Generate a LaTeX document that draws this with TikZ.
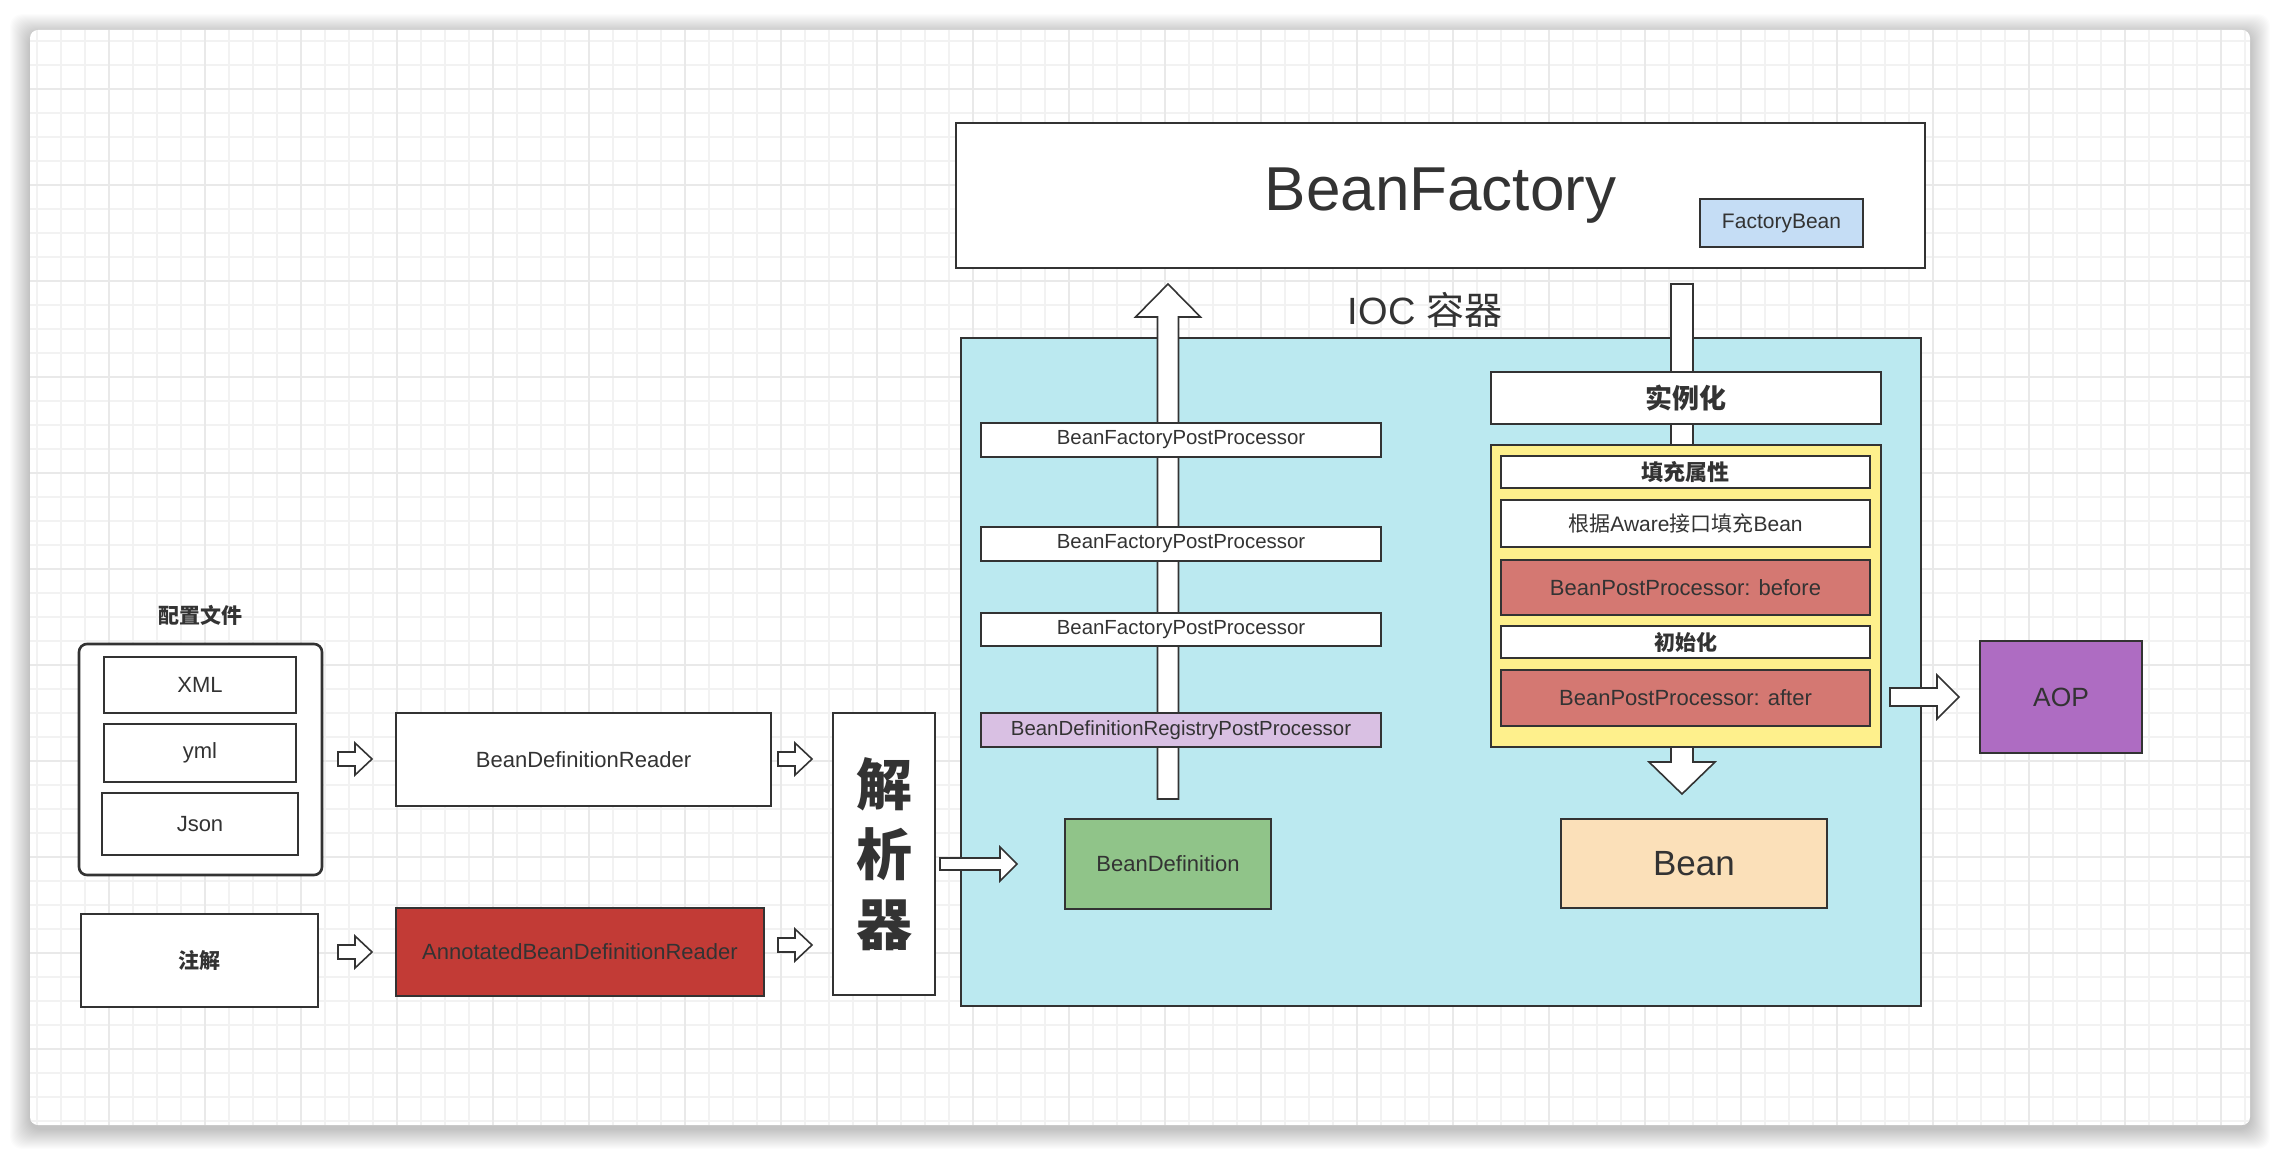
\documentclass[tikz,border=0pt]{standalone}
\usepackage{fontspec}
\setmainfont{Liberation Sans}
\newfontfamily\cjk{Noto Sans CJK SC}
\definecolor{ink}{HTML}{333333}
\definecolor{iocfill}{HTML}{BBE9F0}
\definecolor{lav}{HTML}{D9C0E3}
\definecolor{bdgreen}{HTML}{90C489}
\definecolor{abdrred}{HTML}{C23B36}
\definecolor{bppred}{HTML}{D47872}
\definecolor{yel}{HTML}{FEF08C}
\definecolor{aopp}{HTML}{AE6CC2}
\definecolor{peach}{HTML}{FBE0B9}
\definecolor{fbblue}{HTML}{C5DDF5}
\definecolor{gridminor}{HTML}{F2F2F2}
\definecolor{gridmajor}{HTML}{E9E9E9}
\newcommand\fs[1]{\fontsize{#1}{#1}\selectfont}
\newcommand\bx[7]{\node[#6, minimum width={(#4-#2)*0.5pt}, minimum height={(#5-#3)*0.5pt}] (#1) at ({(#2+#4)/2},{(#3+#5)/2}) {#7};}
\newcommand\rarr[6]{\filldraw[blockarr] (#1,{#3-#4}) -- ({#2-#6},{#3-#4}) -- ({#2-#6},{#3-#5}) -- (#2,#3) -- ({#2-#6},{#3+#5}) -- ({#2-#6},{#3+#4}) -- (#1,{#3+#4}) -- cycle;}
\newcommand\uarr[6]{\filldraw[blockarr] ({#1-#4},#2) -- ({#1-#4},{#3+#6}) -- ({#1-#5},{#3+#6}) -- (#1,#3) -- ({#1+#5},{#3+#6}) -- ({#1+#4},{#3+#6}) -- ({#1+#4},#2) -- cycle;}
\newcommand\darr[6]{\filldraw[blockarr] ({#1-#4},#2) -- ({#1-#4},{#3-#6}) -- ({#1-#5},{#3-#6}) -- (#1,#3) -- ({#1+#5},{#3-#6}) -- ({#1+#4},{#3-#6}) -- ({#1+#4},#2) -- cycle;}
\tikzset{
  box/.style={draw=ink, fill=white, line width=1.3pt, inner sep=0pt, text=ink, font=\fs{11}, align=center},
  blockarr/.style={draw=ink, fill=white, line width=0.8pt, line join=miter},
  lbl/.style={inner sep=0pt, text=ink}
}
\begin{document}
\begin{tikzpicture}[x=0.5pt,y=-0.5pt]
\useasboundingbox (0,0) rectangle (2280,1156);
\fill[white] (0,0) rectangle (2280,1156);
% shadow
\foreach \i in {1,...,20} \fill[black,opacity=0.011,rounded corners=6pt] ({30-\i},{30-\i+4}) rectangle ({2250+\i},{1125+\i+4});
\fill[white, rounded corners=4pt] (30,30) rectangle (2250,1125);
% grid
\begin{scope}
\clip[rounded corners=4pt] (30,30) rectangle (2250,1125);
\foreach \x in {37,61,...,2250} \draw[gridminor, line width=0.75pt] (\x,30) -- (\x,1125);
\foreach \y in {41,65,...,1125} \draw[gridminor, line width=0.75pt] (30,\y) -- (2250,\y);
\foreach \x in {109,205,...,2250} \draw[gridmajor, line width=0.8pt] (\x,30) -- (\x,1125);
\foreach \y in {89,185,...,1125} \draw[gridmajor, line width=0.8pt] (30,\y) -- (2250,\y);
\end{scope}

% BeanFactory
\bx{bf}{956}{123}{1925}{268}{box, font=\fs{31}}{BeanFactory}
\bx{fb}{1700}{199}{1863}{247}{box, fill=fbblue, font=\fs{10.5}}{FactoryBean}
\node[lbl, font=\fs{19}] (ioclbl) at (1425,310) {IOC {\cjk 容器}};

% IOC container
\bx{ioc}{961}{338}{1921}{1006}{box, fill=iocfill}{}

% vertical block arrows
\uarr{1168}{799}{284}{10.5}{32.5}{33}
\darr{1682}{284}{794}{11}{33}{32}

% post processors
\bx{bfpp1}{981}{423}{1381}{457}{box, font=\fs{10.2}}{BeanFactoryPostProcessor}
\bx{bfpp2}{981}{527}{1381}{561}{box, font=\fs{10.2}}{BeanFactoryPostProcessor}
\bx{bfpp3}{981}{613}{1381}{646}{box, font=\fs{10.2}}{BeanFactoryPostProcessor}
\bx{bdrpp}{981}{713}{1381}{747}{box, fill=lav, font=\fs{10.2}}{BeanDefinitionRegistryPostProcessor}
\bx{bd}{1065}{819}{1271}{909}{box, fill=bdgreen, font=\fs{11}}{BeanDefinition}

% bean lifecycle
\bx{inst}{1491}{372}{1881}{424}{box, font=\cjk\bfseries\fs{13.5}}{实例化}
\bx{yb}{1491}{445}{1881}{747}{box, fill=yel}{}
\bx{fill}{1501}{456}{1870}{488}{box, font=\cjk\bfseries\fs{11}}{填充属性}
\bx{aware}{1501}{500}{1870}{547}{box, font=\fs{10.5}}{{\cjk 根据}Aware{\cjk 接口填充}Bean}
\bx{before}{1501}{560}{1870}{615}{box, fill=bppred, font=\fs{11}}{BeanPostProcessor: before}
\bx{init}{1501}{626}{1870}{658}{box, font=\cjk\bfseries\fs{10.5}}{初始化}
\bx{after}{1501}{670}{1870}{726}{box, fill=bppred, font=\fs{11}}{BeanPostProcessor: after}
\bx{bean}{1561}{819}{1827}{908}{box, fill=peach, font=\fs{17.5}}{Bean}
\bx{aop}{1980}{641}{2142}{753}{box, fill=aopp, font=\fs{13.2}}{AOP}
\rarr{1890}{1959}{697}{9}{22}{22}

% left side
\node[lbl, font=\cjk\bfseries\fs{10.5}] (cfglbl) at (200,615) {配置文件};
\draw[ink, line width=1.3pt, rounded corners=4pt, fill=white] (79,644) rectangle (322,875);
\coordinate (cfg) at (322,759);
\bx{xml}{104}{657}{296}{713}{box}{XML}
\bx{yml}{104}{724}{296}{782}{box}{yml}
\bx{json}{102}{793}{298}{855}{box}{Json}
\bx{zj}{81}{914}{318}{1007}{box, font=\cjk\bfseries\fs{10.5}}{注解}
\bx{bdr}{396}{713}{771}{806}{box}{BeanDefinitionReader}
\bx{abdr}{396}{908}{764}{996}{box, fill=abdrred}{AnnotatedBeanDefinitionReader}
\bx{jx}{833}{713}{935}{995}{box, font=\cjk\bfseries\fontsize{28}{35}\selectfont}{解\\析\\器}

\rarr{338}{372}{759}{7}{16}{17}
\rarr{778}{812}{759}{7}{16}{17}
\rarr{338}{372}{952}{7}{16}{17}
\rarr{778}{812}{945}{7}{16}{17}
\rarr{940}{1017}{864}{6}{17}{17}
\end{tikzpicture}
\end{document}
